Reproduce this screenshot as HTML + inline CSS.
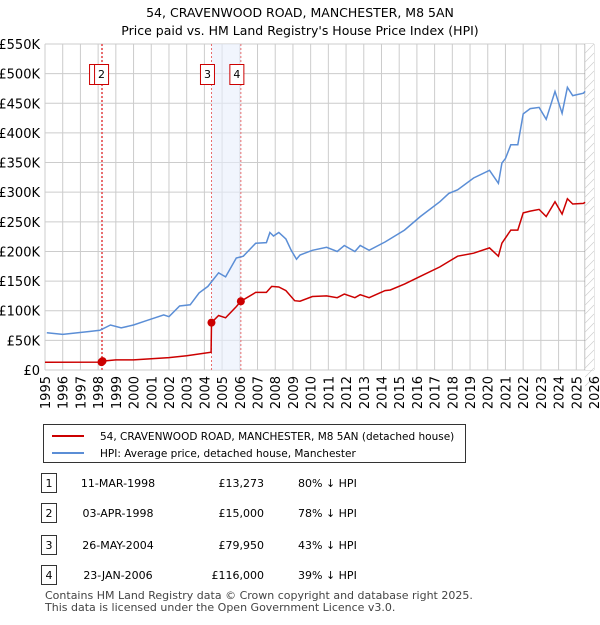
<!DOCTYPE html>
<html><head><meta charset="utf-8"><style>
body{margin:0;background:#fff;font-family:"Liberation Sans",sans-serif;}
svg text{font-family:"DejaVu Sans","Liberation Sans",sans-serif;}
</style></head><body>
<svg id="chart" width="600" height="620" xmlns="http://www.w3.org/2000/svg">
<text x="300" y="17" text-anchor="middle" font-size="12.5">54, CRAVENWOOD ROAD, MANCHESTER, M8 5AN</text>
<text x="300" y="35" text-anchor="middle" font-size="12.5">Price paid vs. HM Land Registry's House Price Index (HPI)</text>
<g id="grid"></g><g id="shade"></g><g id="series"></g><g id="axes"></g>
<g>
<rect x="43.5" y="424.5" width="422" height="38" fill="#fff" stroke="#333"/>
<line x1="52" y1="436" x2="84" y2="436" stroke="#cc0000" stroke-width="2"/>
<text x="100" y="440" font-size="10.5">54, CRAVENWOOD ROAD, MANCHESTER, M8 5AN (detached house)</text>
<line x1="52" y1="453" x2="84" y2="453" stroke="#5b8ed6" stroke-width="2"/>
<text x="100" y="457" font-size="10.5">HPI: Average price, detached house, Manchester</text>
</g>
<g id="table"></g>
<text x="45" y="599" font-size="11" fill="#444">Contains HM Land Registry data © Crown copyright and database right 2025.</text>
<text x="45" y="611" font-size="11" fill="#444">This data is licensed under the Open Government Licence v3.0.</text>
</svg>
<script>
const hpiYears=[1995.1,1996,1997.5,1998.1,1998.7,1999.3,2000.0,2000.7,2001.7,2002.0,2002.6,2003.2,2003.7,2004.2,2004.8,2005.2,2005.8,2006.2,2006.9,2007.5,2007.7,2007.9,2008.2,2008.6,2008.9,2009.2,2009.4,2010.1,2010.9,2011.5,2011.9,2012.5,2012.8,2013.3,2014.2,2015.3,2016.2,2017.3,2017.8,2018.3,2019.2,2020.1,2020.6,2020.8,2021.0,2021.3,2021.7,2022.0,2022.4,2022.9,2023.3,2023.8,2024.2,2024.5,2024.8,2025.4,2025.5];
const hpiValues=[63,60,65,67,76,71,76,83,93,90,108,110,130,141,164,157,189,192,214,215,232,226,232,221,202,187,194,202,207,200,210,200,210,202,216,236,259,284,298,304,324,337,315,349,357,380,380,432,441,443,423,470,433,477,463,467,470];
const redYears=[1995,1998.19,1998.25,1999,2000,2001,2002,2003,2004.38,2004.4,2004.8,2005.2,2005.8,2006.06,2006.9,2007.5,2007.8,2008.2,2008.6,2009.1,2009.4,2010.1,2010.9,2011.5,2011.9,2012.5,2012.8,2013.3,2014.2,2014.5,2015.3,2016.2,2017.3,2017.8,2018.3,2019.2,2020.1,2020.6,2020.8,2021.3,2021.7,2022.0,2022.4,2022.9,2023.3,2023.8,2024.2,2024.5,2024.8,2025.4,2025.5];
const redValues=[13,13.3,15,17,17,19,21,24,30,80,92,88,107,116,131,131,141,140,134,117,116,124,125,122,128,122,127,122,134,135,145,158,174,183,192,197,206,192,214,236,236,265,268,271,259,284,263,289,280,281,283];
const saleYears=[1998.19,1998.25,2004.4,2006.06];
const saleValues=[13.273,15,79.95,116];
const saleLabels=["1","2","3","4"];
const saleDates=["11-MAR-1998","03-APR-1998","26-MAY-2004","23-JAN-2006"];
const salePrices=["£13,273","£15,000","£79,950","£116,000"];
const salePct=["80% ↓ HPI","78% ↓ HPI","43% ↓ HPI","39% ↓ HPI"];
const yTicks=[0,50,100,150,200,250,300,350,400,450,500,550];
const xTicks=[];for(let y=1995;y<=2026;y++)xTicks.push(y);
const NS="http://www.w3.org/2000/svg";
const X=y=>45+(y-1995)*(549/31);
const Y=v=>370-v*(326/550);
function mk(p,t,a){const e=document.createElementNS(NS,t);for(const k in a)e.setAttribute(k,a[k]);p.appendChild(e);return e;}
const grid=document.getElementById('grid'),axes=document.getElementById('axes'),shade=document.getElementById('shade'),ser=document.getElementById('series');
const hx=X(2025.5);
const hr=mk(shade,'rect',{x:hx,y:44,width:594-hx,height:326,fill:'#fff'});

for(let yy=44;yy<380;yy+=9){mk(shade,'line',{x1:hx,y1:yy+9,x2:594,y2:yy,stroke:'#ccc','stroke-width':0.6});}
yTicks.forEach(v=>{const l=mk(grid,'line',{x1:45,x2:594,y1:Y(v),y2:Y(v),stroke:'#ccc'});

const t=mk(axes,'text',{x:40,y:Y(v)+5,'text-anchor':'end','font-size':13});t.textContent=v===0?'£0':'£'+v+'K';
});
xTicks.forEach(y=>{const l=mk(grid,'line',{x1:X(y),x2:X(y),y1:44,y2:370,stroke:'#ccc'});

const t=mk(axes,'text',{x:0,y:0,'text-anchor':'end','font-size':13,transform:`translate(${X(y)+5},376) rotate(-90)`});t.textContent=y;
});
mk(grid,'line',{x1:hx,x2:hx,y1:44,y2:370,stroke:'#888'});
[[0,1],[2,3]].forEach(([a,b])=>{const r=mk(shade,'rect',{x:X(saleYears[a]),y:44,width:X(saleYears[b])-X(saleYears[a]),height:326,fill:'#e8eefc',opacity:0.6});
});
saleYears.forEach(y=>{const l=mk(shade,'line',{x1:X(y),x2:X(y),y1:44,y2:370,stroke:'#e86060','stroke-dasharray':'2,2','stroke-width':0.9});
});
[[0,-5],[1,0],[2,0],[3,0]].forEach(([i,off])=>{const cx=(i<2?X(saleYears[1])-1:X(saleYears[i])-4)+off;
const g=mk(ser,'g',{});
mk(g,'rect',{x:cx-7,y:64.5,width:14,height:20,fill:'#fff',stroke:'#cc0000'});
const t=mk(g,'text',{x:cx,y:78,'text-anchor':'middle','font-size':11});t.textContent=saleLabels[i];});
const pl=(xs,vs)=>xs.map((x,i)=>X(x).toFixed(1)+','+Y(vs[i]).toFixed(1)).join(' ');
const b=mk(ser,'polyline',{points:pl(hpiYears,hpiValues),fill:'none',stroke:'#5b8ed6','stroke-width':1.5});

const r=mk(ser,'polyline',{points:pl(redYears,redValues),fill:'none',stroke:'#cc0000','stroke-width':1.5});

saleYears.forEach((y,i)=>{const c=mk(ser,'circle',{cx:X(y),cy:Y(saleValues[i]),r:4,fill:'#cc0000'});
});
const tb=document.getElementById('table');const rowY=[483,513,545,575];
saleLabels.forEach((lb,i)=>{const g=mk(tb,'g',{});
mk(g,'rect',{x:41.5,y:rowY[i]-9.5,width:15,height:19,fill:'#fff',stroke:'#333'});
let t=mk(g,'text',{x:49,y:rowY[i]+4,'text-anchor':'middle','font-size':11});t.textContent=lb;
t=mk(g,'text',{x:118,y:rowY[i]+4,'text-anchor':'middle','font-size':11});t.textContent=saleDates[i];
t=mk(g,'text',{x:264,y:rowY[i]+4,'text-anchor':'end','font-size':11});t.textContent=salePrices[i];
t=mk(g,'text',{x:298,y:rowY[i]+4,'font-size':11});t.textContent=salePct[i];});
</script>
</body></html>
